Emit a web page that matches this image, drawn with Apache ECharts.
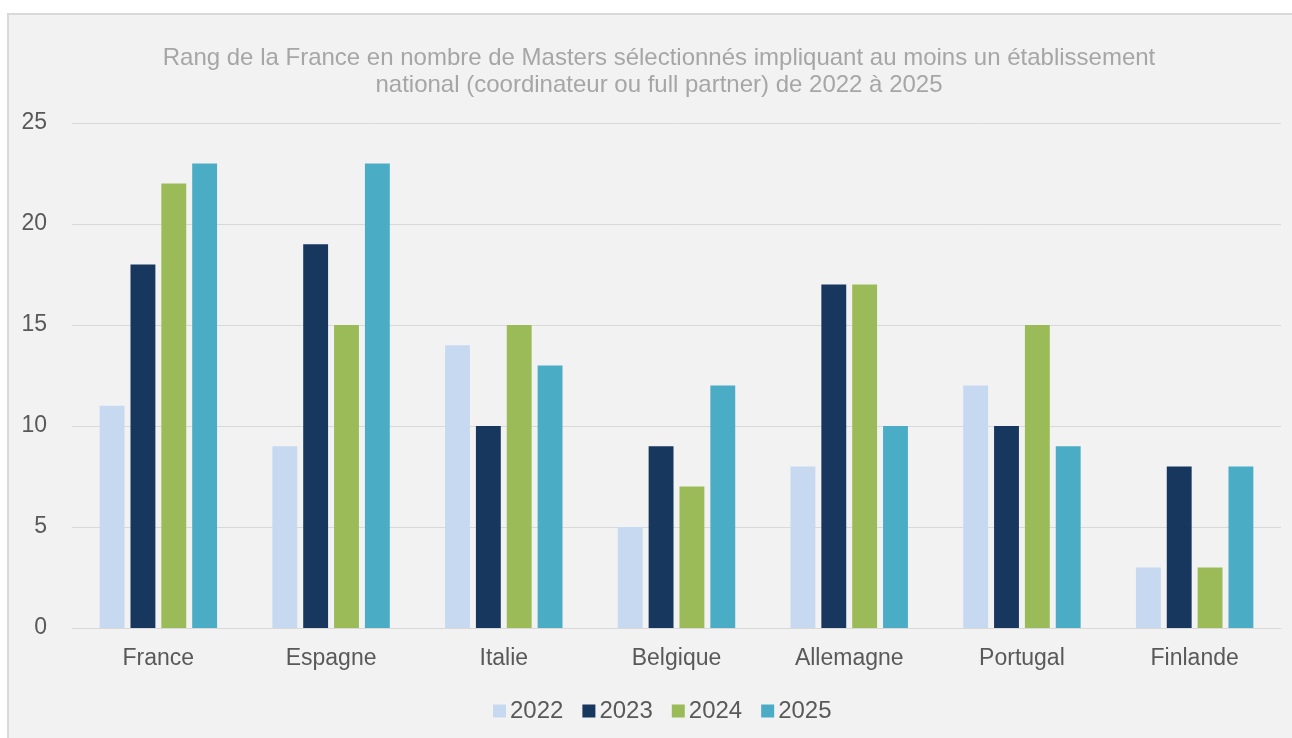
<!DOCTYPE html>
<html>
<head>
<meta charset="utf-8">
<script src="https://cdn.jsdelivr.net/npm/echarts@6/dist/echarts.min.js"></script>
<style>
  html, body { margin: 0; padding: 0; background: #fff; overflow: hidden; }
  #frame {
    position: absolute; left: 7px; top: 13px;
    width: 1320px; height: 760px;
    box-sizing: border-box;
    background: #f2f2f2; border: 2px solid #d9d9d9;
  }
  #chart { position: absolute; left: 0; top: 0; width: 1292px; height: 738px; }
</style>
</head>
<body>
<div id="frame"></div>
<div id="chart"></div>
<script>
// données
const pays = ['France', 'Espagne', 'Italie', 'Belgique', 'Allemagne', 'Portugal', 'Finlande'];
const annees = ['2022', '2023', '2024', '2025'];
const v2022 = [11, 9, 14, 5, 8, 12, 3];
const v2023 = [18, 19, 10, 9, 17, 10, 8];
const v2024 = [22, 15, 15, 7, 17, 15, 3];
const v2025 = [23, 23, 13, 12, 10, 9, 8];
const couleurs = ['#c6d9f1', '#17375e', '#9bbb59', '#4bacc6'];

const valeurs = [v2022, v2023, v2024, v2025];
const font = 'Liberation Sans, Arial, sans-serif';

const myChart = echarts.init(document.getElementById('chart'));

const option = {
  animation: false,
  textStyle: { fontFamily: font },
  title: {
    text: 'Rang de la France en nombre de Masters sélectionnés impliquant au moins un établissement\nnational (coordinateur ou full partner) de 2022 à 2025',
    left: 654,
    top: 40,
    textAlign: 'center',
    textStyle: {
      fontFamily: font,
      fontSize: 24,
      fontWeight: 'normal',
      color: '#a6a6a6',
      lineHeight: 27,
      align: 'center'
    }
  },
  legend: {
    data: annees,
    left: 488,
    top: 694,
    itemWidth: 13,
    itemHeight: 13,
    itemGap: 19,
    icon: 'rect',
    textStyle: { fontFamily: font, fontSize: 24, color: '#595959', padding: [0, 0, 0, -1] }
  },
  grid: { left: 72, right: 11, top: 123, bottom: 110 },
  xAxis: {
    type: 'category',
    data: pays,
    axisTick: { show: false },
    axisLine: { lineStyle: { color: '#d9d9d9', width: 1 } },
    axisLabel: { fontFamily: font, fontSize: 23, color: '#595959', margin: 19 }
  },
  yAxis: {
    type: 'value',
    min: 0,
    max: 25,
    interval: 5,
    axisLine: { show: false },
    axisTick: { show: false },
    splitLine: { lineStyle: { color: '#d9d9d9', width: 1 } },
    axisLabel: { fontFamily: font, fontSize: 23, color: '#595959', margin: 25 }
  },
  series: annees.map((a, i) => ({
    name: a,
    type: 'bar',
    data: valeurs[i],
    barGap: '24%',
    barCategoryGap: '32%',
    itemStyle: { color: couleurs[i] }
  }))
};

myChart.setOption(option);
window.onresize = () => { myChart.resize(); };
</script>
</body>
</html>
